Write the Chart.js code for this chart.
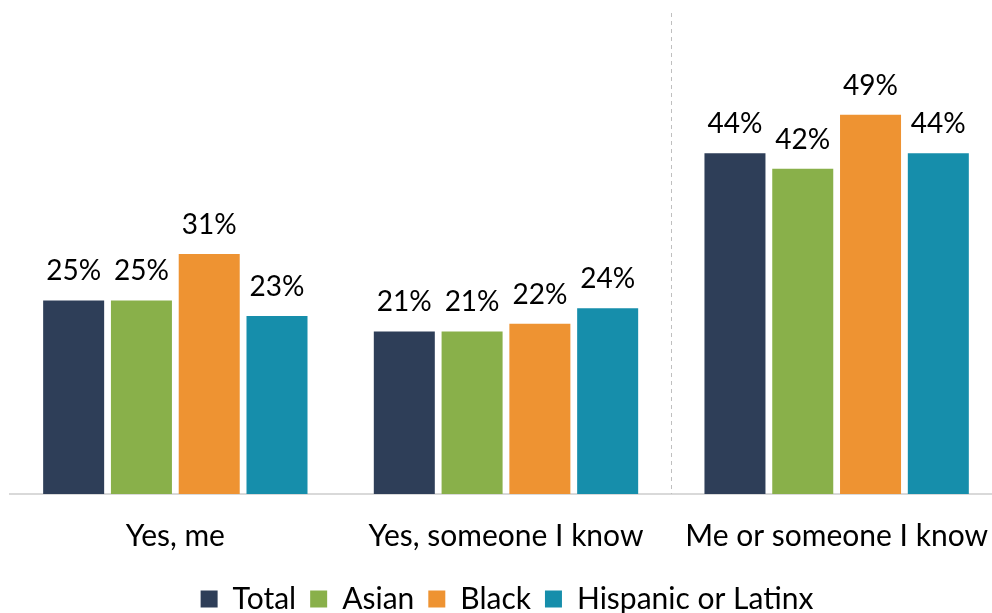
<!DOCTYPE html>
<html>
<head>
<meta charset="utf-8">
<script src="https://cdn.jsdelivr.net/npm/chart.js"></script>
<style>
  html, body { margin: 0; padding: 0; background: #fff; overflow: hidden; }
  #wrap { width: 1004px; height: 613px; position: relative; }
</style>
</head>
<body>
<div id="wrap"><canvas id="section"></canvas></div>
<script>
let categories = ["Yes, me", "Yes, someone I know", "Me or someone I know"];
let totalVals = [25, 21, 44];
let asianVals = [25, 21, 42];
let blackVals = [31, 22, 49];
let hispanicVals = [23, 24, 44];

// dashed divider between the 2nd and 3rd group + value labels
const extras = {
  id: "extras",
  afterDatasetsDraw(chart) {
    const ctx = chart.ctx;
    const xs = chart.scales.x;
    const area = chart.chartArea;
    const x = Math.round((xs.getPixelForValue(1) + xs.getPixelForValue(2)) / 2) + 0.5;
    ctx.save();
    ctx.strokeStyle = "#bfbfbf";
    ctx.lineWidth = 1;
    ctx.setLineDash([4, 4]);
    ctx.beginPath();
    ctx.moveTo(x, 13);
    ctx.lineTo(x, area.bottom);
    ctx.stroke();
    ctx.setLineDash([]);

    ctx.fillStyle = "#000";
    ctx.font = "28px Lato";
    ctx.textAlign = "center";
    ctx.textBaseline = "alphabetic";
    chart.data.datasets.forEach((ds, i) => {
      chart.getDatasetMeta(i).data.forEach((bar, j) => {
        ctx.fillText(ds.data[j] + "%", bar.x, bar.y - 20);
      });
    });
    ctx.restore();
  }
};

const ctx = document.getElementById("section");
new Chart(ctx, {
  type: "bar",
  data: {
    labels: categories,
    datasets: [
      { label: "Total", data: totalVals, backgroundColor: "#2e3e58" },
      { label: "Asian", data: asianVals, backgroundColor: "#89b04a" },
      { label: "Black", data: blackVals, backgroundColor: "#ee9332" },
      { label: "Hispanic or Latinx", data: hispanicVals, backgroundColor: "#168eab" },
    ],
  },
  options: {
    responsive: true,
    maintainAspectRatio: false,
    animation: false,
    datasets: { bar: { categoryPercentage: 0.82, barPercentage: 0.9 } },
    layout: { padding: { top: 14, left: 10, right: 0, bottom: -11 } },
    scales: {
      x: {
        grid: { display: false },
        border: { color: "#d9d9d9", width: 2 },
        ticks: { color: "#000", font: { family: "Lato", size: 30 }, padding: 16 },
      },
      y: {
        display: false,
        min: 0,
        max: 62,
      },
    },
    plugins: {
      legend: {
        position: "bottom",
        labels: {
          color: "#000",
          font: { family: "Lato", size: 30 },
          boxWidth: 17,
          boxHeight: 17,
          padding: 14,
        },
      },
      tooltip: { enabled: false },
    },
  },
  plugins: [extras],
});
</script>
</body>
</html>
